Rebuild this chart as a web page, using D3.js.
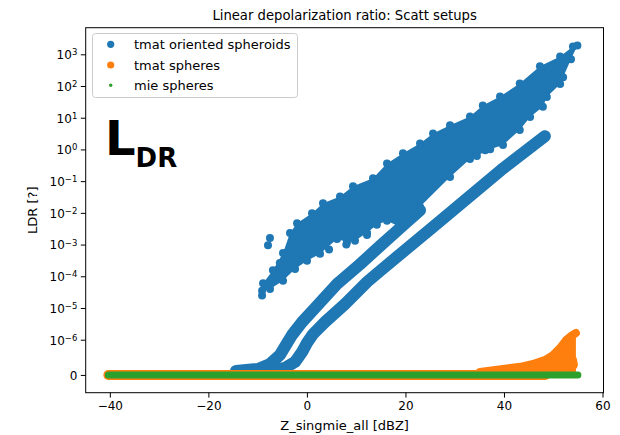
<!DOCTYPE html>
<html>
<head>
<meta charset="utf-8">
<script src="https://d3js.org/d3.v7.min.js"></script>
<style>
  body { margin: 0; background: #fff; }
  text { font-family: "DejaVu Sans", sans-serif; fill: #000; }
</style>
</head>
<body>
<script>
// values: [Z_singmie_all (dBZ), LDR]
// tmat oriented spheroids: dense cloud, outline of the scattered points
var cloudTop = [
  [-9.1, 2.5e-5], [-8.9, 6.0e-5], [-6.9, 1.55e-4], [-4.85, 5.4e-4], [-3.43, 2.3e-3],
  [-2.0, 4.7e-3], [1.04, 9.8e-3], [3.27, 0.020], [6.72, 0.033], [9.36, 0.069],
  [13.42, 0.123], [16.26, 0.36], [19.5, 0.76], [22.96, 1.55], [25.6, 3.2],
  [29.05, 5.8], [33.1, 11], [35.7, 24.5], [39.2, 47], [43.2, 120],
  [47.3, 420], [51.4, 850], [54.0, 1750], [54.9, 1900]
];
var cloudBottom = [
  [53.6, 700], [52.0, 190], [51.4, 115], [48.7, 45], [47.9, 22],
  [45.3, 10.5], [43.2, 4.1], [39.8, 1.38], [37.2, 1.02], [33.1, 0.50],
  [29.05, 0.135], [22.96, 0.0155], [18.9, 3.6e-3], [16.26, 5.6e-3], [14.2, 4.2e-3],
  [12.2, 2.35e-3], [9.76, 1.32e-3], [8.14, 1.2e-3], [6.11, 1.5e-3], [2.66, 5.1e-4],
  [0.02, 3.1e-4], [-2.41, 1.7e-4], [-4.85, 7.2e-5], [-7.49, 4.0e-5], [-9.1, 3.5e-5]
];
var cloudLoose = [
  [-7.5, 1.6e-3], [-7.9, 9.5e-4], [12.2, 2.0e-3], [8.0, 1.0e-3], [34.5, 0.62],
  [36.2, 0.95], [-5.5, 2.6e-4], [4.5, 7.0e-4]
];
// the two narrow branches and their common stem near LDR = 0
var branchUpper = [
  [-14.39, 1.13e-7], [-9.92, 1.7e-7], [-7.49, 3.1e-7], [-5.46, 5.7e-7], [-4.24, 8.5e-7],
  [-3.02, 1.41e-6], [-0.99, 3.6e-6], [1.65, 1.0e-5], [6.11, 5.7e-5], [10.78, 2.4e-4],
  [14.84, 9.0e-4], [18.9, 3.3e-3], [22.96, 0.012]
];
var branchLower = [
  [-7.49, 1.13e-7], [-4.44, 2.0e-7], [-2.41, 3.7e-7], [-0.99, 6.5e-7], [0.02, 9.1e-7],
  [1.24, 1.5e-6], [3.68, 3.6e-6], [7.74, 1.34e-5], [12.2, 6.6e-5], [14.84, 1.47e-4],
  [27.02, 5.5e-3], [39.4, 0.223], [48.3, 2.62]
];
// tmat spheres
var orangeBase = [[-40.3, 0], [48.4, 0]];
var orangeTail = [
  [35.1, 8.5e-8], [39.8, 1.7e-7], [43.3, 2.3e-7], [45.9, 3.1e-7], [48.4, 4.3e-7],
  [50.0, 5.7e-7], [51.4, 7.7e-7], [52.6, 9.9e-7], [53.6, 1.31e-6], [54.6, 1.63e-6]
];
var orangeThumb = [[53.0, 6.0e-7], [54.0, 4.3e-7], [54.2, 2.8e-7], [53.4, 1.2e-7]];
// mie spheres
var greenBase = [[-40.3, 0], [55.0, 0]];

var seriesNames = ["tmat oriented spheroids", "tmat spheres", "mie spheres"];
var seriesColors = ["#1f77b4", "#ff7f0e", "#2ca02c"];
var xTicks = [-40, -20, 0, 20, 40, 60];
var yTicks = [0, 1e-6, 1e-5, 1e-4, 1e-3, 1e-2, 1e-1, 1, 10, 100, 1000];
var yExp = [null, "\u22126", "\u22125", "\u22124", "\u22123", "\u22122", "\u22121", "0", "1", "2", "3"];

var W = 620, H = 435;
var box = { left: 85.7, right: 603.5, top: 27.7, bottom: 392.7 };

// matplotlib style symlog, linthresh 1e-6, linscale 1
function symlog(v) {
  var lt = 1e-6, ls = 1 / (1 - 1 / 10), a = Math.abs(v), s = v < 0 ? -1 : 1;
  return a <= lt ? v / lt * ls : s * (ls + Math.log10(a / lt));
}

var x = d3.scaleLinear().domain([-44.9, 60.2]).range([box.left, box.right]);
var yt = d3.scaleLinear().domain([-0.56, 10.95]).range([box.bottom, box.top]);
function px(d) { return x(d[0]); }
function py(d) { return yt(symlog(d[1])); }

var svg = d3.select("body").append("svg")
  .attr("width", W).attr("height", H);

var plot = svg.append("g");
plot.append("clipPath").attr("id", "clip").append("rect")
  .attr("x", box.left).attr("y", box.top)
  .attr("width", box.right - box.left).attr("height", box.bottom - box.top);
var marks = plot.append("g").attr("clip-path", "url(#clip)");

var line = d3.line().x(px).y(py);
var area = d3.area().x(px).y0(yt(symlog(0))).y1(py);

function band(g, pts, color, w) {
  g.append("path")
    .attr("d", line(pts))
    .attr("fill", "none")
    .attr("stroke", color)
    .attr("stroke-width", w)
    .attr("stroke-linecap", "round")
    .attr("stroke-linejoin", "round");
}

// blue: spheroids
marks.append("path")
  .attr("d", line(cloudTop.concat(cloudBottom)) + "Z")
  .attr("fill", seriesColors[0]);
marks.selectAll("circle.cloud")
  .data(cloudTop.concat(cloudBottom, cloudLoose))
  .enter().append("circle")
  .attr("class", "cloud")
  .attr("cx", px).attr("cy", py).attr("r", 4)
  .attr("fill", seriesColors[0]);
band(marks, branchUpper, seriesColors[0], 12);
band(marks, branchLower, seriesColors[0], 12);

// orange: spheres (tmat)
band(marks, orangeBase, seriesColors[1], 10);
marks.append("path")
  .attr("d", area(orangeTail))
  .attr("fill", seriesColors[1]);
band(marks, orangeTail, seriesColors[1], 8);
band(marks, orangeThumb, seriesColors[1], 8);

// green: mie spheres
band(marks, greenBase, seriesColors[2], 7);

// axes
var xAxis = svg.append("g")
  .attr("transform", "translate(0," + box.bottom + ")")
  .call(d3.axisBottom(x).tickValues(xTicks).tickSize(4.9).tickPadding(3.5)
    .tickFormat(function (d) { return d < 0 ? "\u2212" + (-d) : d; }));
xAxis.select(".domain").remove();
xAxis.selectAll("text").attr("font-size", 12).attr("font-family", "DejaVu Sans");
xAxis.selectAll("line").attr("stroke", "#000").attr("stroke-width", 1);

var yAxis = svg.append("g")
  .attr("transform", "translate(" + box.left + ",0)")
  .call(d3.axisLeft(yt).tickValues(yTicks.map(symlog)).tickSize(4.9).tickPadding(3.5)
    .tickFormat(""));
yAxis.select(".domain").remove();
yAxis.selectAll("line").attr("stroke", "#000").attr("stroke-width", 1);
yAxis.selectAll(".tick").each(function (d, i) {
  var t = d3.select(this).select("text")
    .attr("font-size", 12).attr("font-family", "DejaVu Sans")
    .attr("dy", "0.36em");
  if (yExp[i] === null) { t.text("0"); return; }
  t.text("10");
  t.append("tspan").attr("dy", "-0.45em").attr("font-size", 8.5).text(yExp[i]);
});

svg.append("rect")
  .attr("x", box.left).attr("y", box.top)
  .attr("width", box.right - box.left).attr("height", box.bottom - box.top)
  .attr("fill", "none").attr("stroke", "#000").attr("stroke-width", 1);

// labels
svg.append("text")
  .attr("x", (box.left + box.right) / 2).attr("y", 19.5)
  .attr("text-anchor", "middle").attr("font-size", 13.2)
  .text("Linear depolarization ratio: Scatt setups");
svg.append("text")
  .attr("x", (box.left + box.right) / 2).attr("y", 430)
  .attr("text-anchor", "middle").attr("font-size", 13)
  .text("Z_singmie_all [dBZ]");
svg.append("text")
  .attr("transform", "translate(37," + ((box.top + box.bottom) / 2) + ") rotate(-90)")
  .attr("text-anchor", "middle").attr("font-size", 13)
  .text("LDR [?]");

// big L_DR annotation
var ldr = svg.append("text")
  .attr("x", 105).attr("y", 154.5)
  .attr("font-weight", "bold").attr("font-size", 48)
  .text("L");
ldr.append("tspan").attr("dy", 12.5).attr("font-size", 26).text("DR");

// legend
var leg = svg.append("g");
leg.append("rect")
  .attr("x", 92.5).attr("y", 33.5).attr("width", 205).attr("height", 64)
  .attr("rx", 3).attr("fill", "#fff").attr("fill-opacity", 0.8)
  .attr("stroke", "#cccccc").attr("stroke-width", 1);
var legY = [44.3, 65, 85.2];
var legR = [3.6, 3.6, 1.7];
seriesNames.forEach(function (n, i) {
  leg.append("circle").attr("cx", 110.7).attr("cy", legY[i]).attr("r", legR[i])
    .attr("fill", seriesColors[i]);
  leg.append("text").attr("x", 134).attr("y", legY[i]).attr("dy", "0.36em")
    .attr("font-size", 13).text(n);
});
</script>
</body>
</html>
